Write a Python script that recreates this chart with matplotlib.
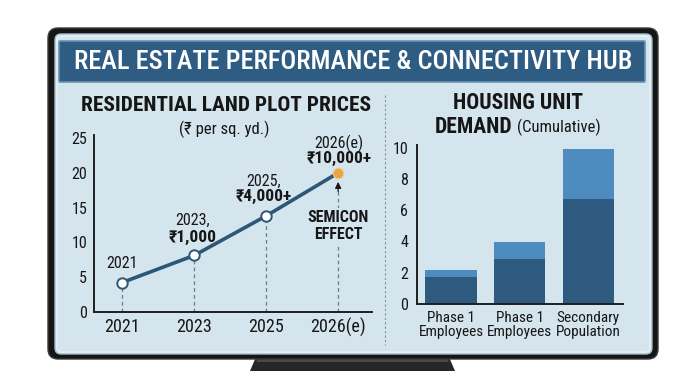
import matplotlib
matplotlib.use('Agg')
import matplotlib.pyplot as plt
from matplotlib import font_manager
from matplotlib.patches import FancyBboxPatch, Polygon

# ---------------- data ----------------
years = ['2021', '2023', '2025', '2026(e)']
price_index = [4.2, 8.1, 13.8, 20.0]
point_years = ['2021', '2023,', '2025,', '2026(e)']
point_prices = ['', '₹1,000', '₹4,000+', '₹10,000+']
left_yticks = [0, 5, 10, 15, 20, 25]

bar_categories = ['Phase 1\nEmployees', 'Phase 1\nEmployees', 'Secondary\nPopulation']
demand_base = [1.7, 2.9, 6.7]
demand_added = [0.5, 1.05, 3.2]
right_yticks = [0, 2, 4, 6, 8, 10]

main_title = 'REAL ESTATE PERFORMANCE & CONNECTIVITY HUB'
left_title = 'RESIDENTIAL LAND PLOT PRICES'
left_sub = '(₹ per sq. yd.)'
effect_label = 'SEMICON\nEFFECT'

# ---------------- fonts ----------------
names = {f.name for f in font_manager.fontManager.ttflist}
cond = next((n for n in ['Liberation Sans Narrow', 'DejaVu Sans Condensed', 'Roboto Condensed',
                         'Open Sans Condensed', 'Roboto', 'Liberation Sans'] if n in names), 'DejaVu Sans')
FAM = [cond, 'DejaVu Sans']
plt.rcParams['font.family'] = FAM

W, H = 699, 389
fig = plt.figure(figsize=(W / 100, H / 100), dpi=100)
fig.patch.set_facecolor('white')
bg = fig.add_axes([0, 0, 1, 1])
bg.set_xlim(0, W)
bg.set_ylim(H, 0)
bg.axis('off')

INK = '#161616'
PANEL = '#D4E5EE'
LINE = '#2C5777'
DARK = '#2E5A80'
LIGHT = '#4E8CBF'

# TV stand
bg.add_patch(Polygon([(256, 357), (449, 357), (455, 371), (250, 371)], closed=True,
                     fc='#262626', ec='none'))
bg.add_patch(Polygon([(258, 359), (447, 359), (449, 362), (256, 362)], closed=True,
                     fc='#4a4a4a', ec='none'))
# frame
bg.add_patch(FancyBboxPatch((48, 28), 610, 331, boxstyle='round,pad=0,rounding_size=10',
                            fc='#151515', ec='#3a3a3a', lw=1))
bg.add_patch(FancyBboxPatch((55, 34), 597, 320, boxstyle='round,pad=0,rounding_size=6',
                            fc='#E2EDF3', ec='#9FBACB', lw=1))
bg.add_patch(FancyBboxPatch((58, 37), 591, 314, boxstyle='round,pad=0,rounding_size=4',
                            fc=PANEL, ec='none'))
# banner
bg.add_patch(FancyBboxPatch((59, 41), 586, 41, boxstyle='round,pad=0,rounding_size=1',
                            fc='#2E5C83', ec='#6B92B0', lw=1.2))
bg.text(353, 62, main_title, color='white', fontsize=19, fontweight='medium',
        ha='center', va='center')

# separator
bg.plot([385, 385], [95, 345], ls=(0, (2, 2)), color='#7f919d', lw=0.8)

# titles
bg.text(226, 105, left_title, fontsize=15.4, fontweight='bold', color=INK, ha='center', va='center')
bg.text(224, 129, left_sub, fontsize=12, color=INK, ha='center', va='center')
bg.text(518, 103, 'HOUSING UNIT', fontsize=15.5, fontweight='bold', color=INK, ha='center', va='center')
bg.text(512, 127, 'DEMAND', fontsize=15.5, fontweight='bold', color=INK, ha='right', va='center')
bg.text(517, 127, '(Cumulative)', fontsize=12, color=INK, ha='left', va='center')


def rect_ax(x0, y0, x1, y1):
    a = fig.add_axes([x0 / W, 1 - y1 / H, (x1 - x0) / W, (y1 - y0) / H])
    a.set_facecolor('none')
    for s in ['top', 'right']:
        a.spines[s].set_visible(False)
    for s in ['left', 'bottom']:
        a.spines[s].set_color('#1e1e1e')
        a.spines[s].set_linewidth(1.4)
    return a


# ---------------- left line chart ----------------
axL = rect_ax(94, 134.7, 372, 311.7)
xs = list(range(len(years)))
axL.set_xlim(-0.39, 3.47)
axL.set_ylim(0, 25.5)
for i, v in zip(xs[:-1], price_index[:-1]):
    axL.plot([i, i], [0, v], ls=(0, (3, 2.5)), color='#6d7b85', lw=0.9, zorder=1)
axL.plot([xs[-1], xs[-1]], [0, 17.6], ls=(0, (3, 2.5)), color='#6d7b85', lw=0.9, zorder=1)
axL.plot(xs, price_index, color=LINE, lw=2.6, zorder=3, solid_capstyle='round')
axL.plot(xs[:-1], price_index[:-1], 'o', ms=7.5, mfc='white', mec=LINE, mew=1.4, zorder=4)
axL.plot(xs[-1:], price_index[-1:], 'o', ms=7.5, mfc='#E9A446', mec='#F3C98A', mew=0.8, zorder=4)
axL.annotate('', xy=(xs[-1], 18.7), xytext=(xs[-1], 17.3),
             arrowprops=dict(arrowstyle='-|>', color=INK, lw=0.9, mutation_scale=9,
                             shrinkA=0, shrinkB=0), zorder=5)
axL.text(xs[-1], 12.4, effect_label, fontsize=11.5, fontweight='bold', color=INK,
         ha='center', va='center', linespacing=1.15,
         bbox=dict(fc=PANEL, ec='none', pad=1.5), zorder=5)

# point labels (offsets in points above each point)
year_off = [14, 25, 25, 21.5]
price_off = [0, 13, 14, 10.5]
dx_off = [0, -1, -2, 0.5]
for i, (v, yl, pl) in enumerate(zip(price_index, point_years, point_prices)):
    axL.annotate(yl, (i, v), xytext=(dx_off[i], year_off[i]), textcoords='offset points',
                 ha='center', va='center', fontsize=11.5, color=INK, zorder=6)
    if pl:
        axL.annotate(pl, (i, v), xytext=(dx_off[i], price_off[i]), textcoords='offset points',
                     ha='center', va='center', fontsize=12.5, fontweight='bold', color=INK, zorder=6)

axL.set_xticks(xs)
axL.set_xticklabels(years, fontsize=13, color=INK)
axL.set_yticks(left_yticks)
axL.set_yticklabels([str(t) for t in left_yticks], fontsize=11.5, color=INK)
axL.tick_params(axis='both', length=0)
axL.tick_params(axis='x', pad=4.5)
axL.tick_params(axis='y', pad=5)

# ---------------- right stacked bars ----------------
axR = rect_ax(416.7, 145, 622.7, 304)
bx = list(range(len(bar_categories)))
axR.bar(bx, demand_base, width=0.75, color=DARK, zorder=2)
axR.bar(bx, demand_added, bottom=demand_base, width=0.75, color=LIGHT, zorder=2)
axR.set_xlim(-0.5, 2.5)
axR.set_ylim(0, 10.17)
axR.set_xticks(bx)
axR.set_xticklabels(bar_categories, fontsize=11, color=INK, linespacing=1.05)
axR.set_yticks(right_yticks)
axR.set_yticklabels([str(t) for t in right_yticks], fontsize=11.5, color=INK)
axR.tick_params(axis='both', length=0)
axR.tick_params(axis='x', pad=5)
axR.tick_params(axis='y', pad=6)

fig.savefig('out.png', dpi=100, facecolor='white')
